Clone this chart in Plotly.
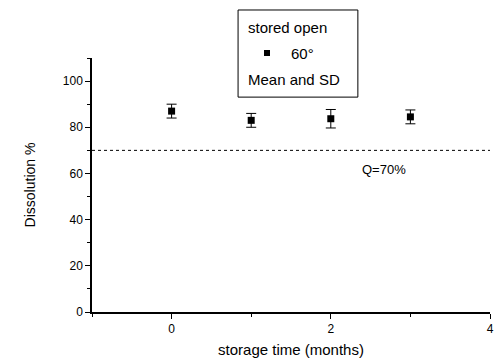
import plotly.graph_objects as go

months = [0, 1, 2, 3]
dissolution = [87.0, 83.0, 83.7, 84.5]
sd = [3.0, 3.0, 4.0, 3.0]
q_level = 70
q_x = [-1, 4]

fig = go.Figure()
fig.add_trace(go.Scatter(
    x=q_x, y=[q_level, q_level], mode="lines",
    line=dict(color="black", width=1, dash="dot"), showlegend=False, hoverinfo="skip"))
fig.add_trace(go.Scatter(
    x=months, y=dissolution, mode="markers",
    marker=dict(symbol="square", size=7, color="black"),
    error_y=dict(type="data", array=sd, visible=True, color="black", thickness=1, width=5),
    showlegend=False))

font = dict(family="Liberation Sans, Arial, sans-serif", color="black")

fig.add_annotation(x=2.67, y=61.5, xref="x", yref="y", text="Q=70%", showarrow=False,
                   xanchor="center", yanchor="middle", font=dict(size=13, **font))

# legend box
fig.add_shape(type="rect", xref="paper", yref="paper", x0=0.367, x1=0.668, y0=0.846, y1=1.189,
              line=dict(color="black", width=1), fillcolor="white")
fig.add_annotation(x=(246 - 92) / 398, y=(312 - 27) / 254, xref="paper", yref="paper",
                   xanchor="left", yanchor="middle",
                   text="stored open", showarrow=False, font=dict(size=15, **font))
fig.add_shape(type="rect", xref="paper", yref="paper",
              x0=(264 - 92) / 398, x1=(270 - 92) / 398, y0=(312 - 56) / 254, y1=(312 - 50) / 254,
              line=dict(color="black", width=0), fillcolor="black")
fig.add_annotation(x=(289 - 92) / 398, y=(312 - 53) / 254, xref="paper", yref="paper",
                   xanchor="left", yanchor="middle",
                   text="60°", showarrow=False, font=dict(size=15, **font))
fig.add_annotation(x=(246 - 92) / 398, y=(312 - 80) / 254, xref="paper", yref="paper",
                   xanchor="left", yanchor="middle",
                   text="Mean and SD", showarrow=False, font=dict(size=15, **font))

fig.update_layout(
    width=496, height=361,
    margin=dict(l=92, r=6, t=58, b=49),
    paper_bgcolor="white", plot_bgcolor="white",
    font=dict(size=12, **font),
    xaxis=dict(range=[-1, 4], tick0=0, dtick=2, ticks="outside", ticklen=5, tickwidth=1,
               tickcolor="black", tickfont=dict(size=12, **font),
               automargin=False,
               showline=True, linecolor="black", linewidth=1.5, showgrid=False, zeroline=False,
               minor=dict(dtick=1, tick0=0, ticks="outside", ticklen=3, tickcolor="black", showgrid=False),
               title=dict(text="storage time (months)", font=dict(size=15, **font), standoff=9)),
    yaxis=dict(range=[0, 110], tick0=0, dtick=20, ticks="outside", ticklen=5, tickwidth=1,
               tickcolor="black", tickfont=dict(size=12, **font),
               automargin=False,
               showline=True, linecolor="black", linewidth=1.5, showgrid=False, zeroline=False,
               minor=dict(dtick=10, tick0=0, ticks="outside", ticklen=3, tickcolor="black", showgrid=False),
               title=dict(text="Dissolution %", font=dict(size=14, **font), standoff=24)),
)

fig.write_html("out.html", config={"displayModeBar": False},
               post_script="document.body.style.margin='0';document.body.style.overflow='hidden';")
